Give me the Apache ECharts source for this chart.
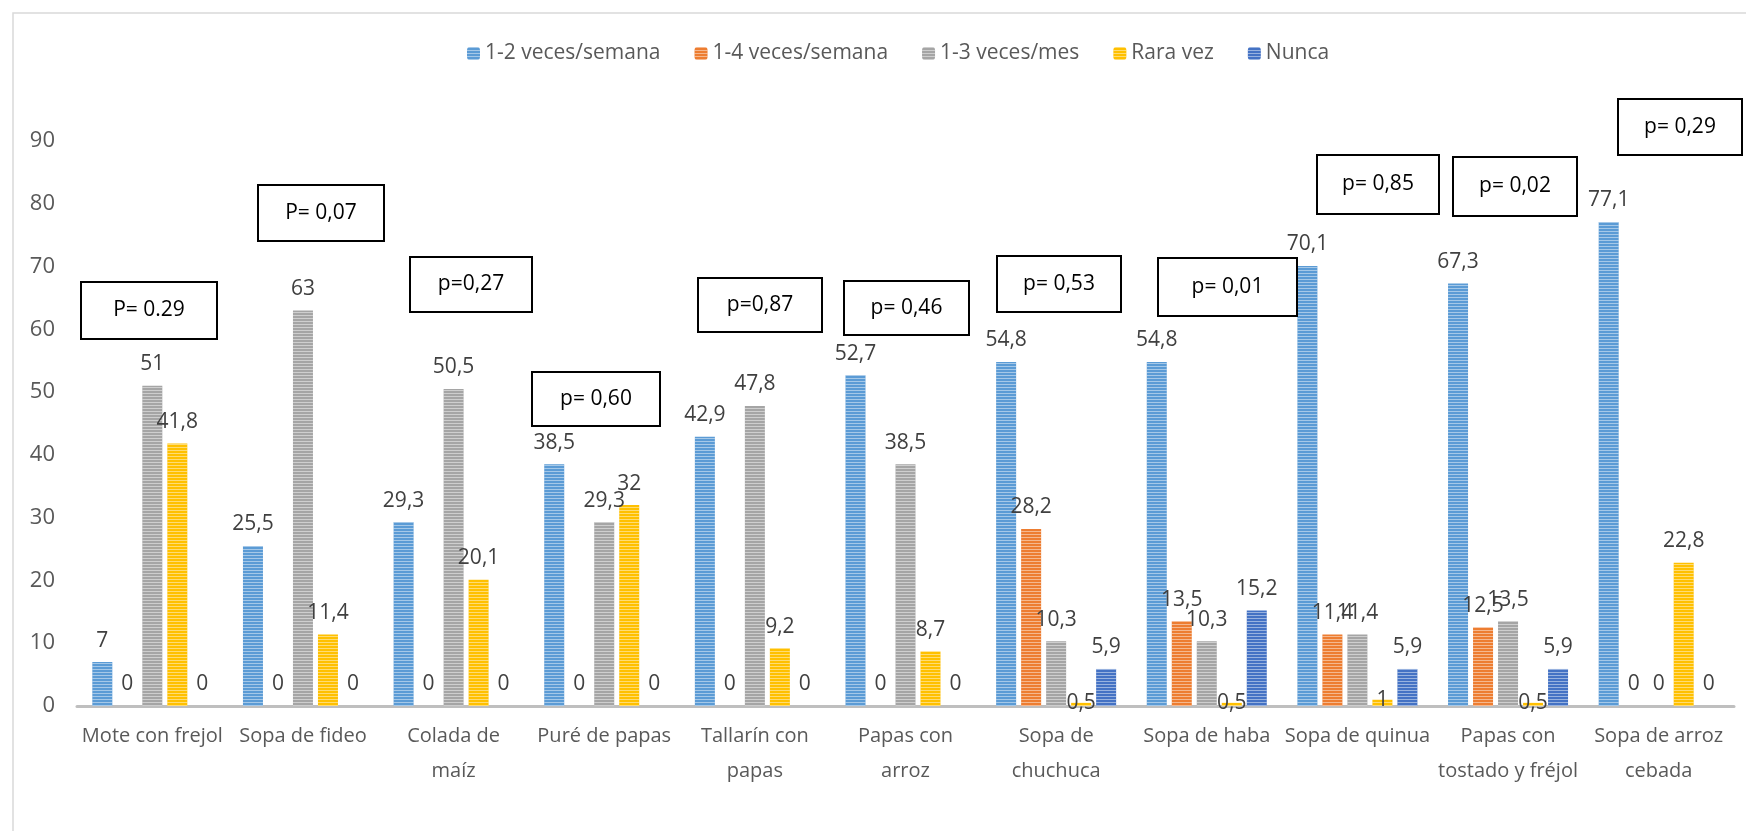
<!DOCTYPE html>
<html>
<head>
<meta charset="utf-8">
<script src="https://cdn.jsdelivr.net/npm/echarts@6/dist/echarts.min.js"></script>
<style>
  html, body { margin: 0; padding: 0; background: #fff; }
  #chart { width: 1746px; height: 831px; }
</style>
</head>
<body>
<div id="chart"></div>
<script>
// categorías
var categorias = ['Mote con frejol', 'Sopa de fideo', 'Colada de\nmaíz', 'Puré de papas', 'Tallarín con\npapas',
    'Papas con\narroz', 'Sopa de\nchuchuca', 'Sopa de haba', 'Sopa de quinua', 'Papas con\ntostado y fréjol',
    'Sopa de arroz\ncebada'];

var nombres = ['1-2 veces/semana', '1-4 veces/semana', '1-3 veces/mes', 'Rara vez', 'Nunca'];

// valores (%)
var semana12 = [7, 25.5, 29.3, 38.5, 42.9, 52.7, 54.8, 54.8, 70.1, 67.3, 77.1];
var semana14 = [0, 0, 0, 0, 0, 0, 28.2, 13.5, 11.4, 12.5, 0];
var mes13 = [51, 63, 50.5, 29.3, 47.8, 38.5, 10.3, 10.3, 11.4, 13.5, 0];
var raraVez = [41.8, 11.4, 20.1, 32, 9.2, 8.7, 0.5, 0.5, 1, 0.5, 22.8];
var nunca = [0, 0, 0, 0, 0, 0, 5.9, 15.2, 5.9, 5.9, 0];

// valores p
var valoresP = ['P= 0.29', 'P= 0,07', 'p=0,27', 'p= 0,60', 'p=0,87', 'p= 0,46', 'p= 0,53', 'p= 0,01',
    'p= 0,85', 'p= 0,02', 'p= 0,29'];

// posición de los cuadros de texto [x, y, ancho, alto]
var cajasP = [
    [81, 282, 136, 57], [258, 185, 126, 56], [410, 257, 122, 55], [532, 372, 128, 54],
    [698, 278, 124, 54], [844, 281, 125, 54], [997, 256, 124, 56], [1158, 258, 139, 58],
    [1317, 155, 122, 59], [1453, 157, 124, 59], [1618, 99, 124, 56]
];

var colores = ['#5B9BD5', '#ED7D31', '#A5A5A5', '#FFC000', '#4472C4'];
var fuente = '"Open Sans", Lato, sans-serif';

var init_chart = function () {
    var my_chart = echarts.init(document.getElementById('chart'));

    // rayas horizontales como en el original
    var rayas = {
        symbol: 'rect',
        symbolSize: 1,
        dashArrayX: [1, 0],
        dashArrayY: [1, 2],
        rotation: 0,
        color: 'rgba(255,255,255,0.45)'
    };

    var serie = function (idx, datos) {
        return {
            name: nombres[idx],
            type: 'bar',
            // las etiquetas de barras muy pequeñas quedan sobre el eje
            data: datos.map(function (v) {
                if (v > 0 && v < 2) {
                    return {value: v, label: {offset: [0, 22]}};
                }
                return v;
            }),
            barWidth: 20,
            barGap: '25%',
            itemStyle: {color: colores[idx], decal: rayas},
            label: {
                show: true,
                position: 'top',
                distance: 11,
                color: '#404040',
                fontFamily: fuente,
                fontSize: 21,
                formatter: function (p) {
                    return String(p.value).replace('.', ',');
                }
            }
        };
    };

    var graficos = [{
        type: 'rect',
        silent: true,
        shape: {x: 13, y: 13, width: 1800, height: 900},
        style: {fill: 'none', stroke: '#D9D9D9', lineWidth: 1.5}
    }];
    cajasP.forEach(function (c, i) {
        graficos.push({
            type: 'rect',
            silent: true,
            shape: {x: c[0], y: c[1], width: c[2], height: c[3]},
            style: {fill: '#fff', stroke: '#000', lineWidth: 2},
            z: 10
        });
        graficos.push({
            type: 'text',
            silent: true,
            x: c[0] + c[2] / 2,
            y: c[1] + c[3] / 2,
            style: {
                text: valoresP[i],
                fill: '#000',
                font: '21px ' + fuente,
                align: 'center',
                verticalAlign: 'middle',
                textAlign: 'center',
                textVerticalAlign: 'middle'
            },
            z: 11
        });
    });

    var opcion = {
        backgroundColor: '#fff',
        color: colores,
        textStyle: {fontFamily: fuente},
        legend: {
            data: nombres,
            top: 38,
            left: 462,
            itemWidth: 13,
            itemHeight: 13,
            itemGap: 34,
            textStyle: {color: '#595959', fontSize: 21, fontFamily: fuente}
        },
        grid: {left: 77, right: 12, top: 141, bottom: 125, containLabel: false},
        xAxis: {
            type: 'category',
            data: categorias,
            axisTick: {show: false},
            axisLine: {lineStyle: {color: '#BFBFBF', width: 3}},
            axisLabel: {
                interval: 0,
                color: '#595959',
                fontSize: 20,
                lineHeight: 35,
                margin: 13,
                fontFamily: fuente
            }
        },
        yAxis: {
            type: 'value',
            min: 0,
            max: 90,
            interval: 10,
            axisLine: {show: false},
            axisTick: {show: false},
            splitLine: {show: false},
            axisLabel: {color: '#595959', fontSize: 22, margin: 22, fontFamily: fuente}
        },
        series: [
            serie(0, semana12),
            serie(1, semana14),
            serie(2, mes13),
            serie(3, raraVez),
            serie(4, nunca)
        ],
        graphic: graficos
    };

    my_chart.setOption(opcion);
};

init_chart();
</script>
</body>
</html>
